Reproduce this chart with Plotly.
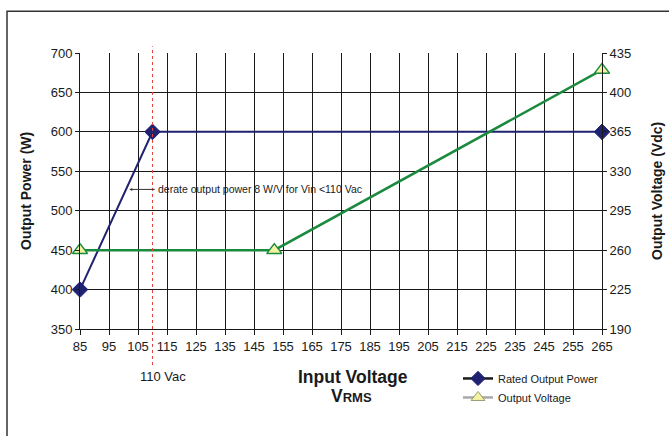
import plotly.graph_objects as go

# ---- data ----
power_x = [85, 110, 265]
power_y = [400, 600, 600]          # Rated Output Power (W), left axis
volt_x = [85, 152, 265]
volt_y = [260, 260, 420]           # Output Voltage (Vdc), right axis
x_ticks = list(range(85, 266, 10))
left_ticks = [350, 400, 450, 500, 550, 600, 650, 700]
right_ticks = [190, 225, 260, 295, 330, 365, 400, 435]
derate_x = 110
ann_point = (102, 527)

FONT = "Liberation Sans, Arial, Helvetica, sans-serif"
NAVY = "#1f2270"
GREEN = "#1b8a3e"
YELLOW = "#f3f3a2"
INK = "#1a1a1a"

fig = go.Figure()

fig.add_trace(go.Scatter(
    x=power_x, y=power_y, mode="lines+markers", showlegend=False, cliponaxis=False,
    line=dict(color=NAVY, width=2),
    marker=dict(symbol="diamond", size=12, color=NAVY, line=dict(color=NAVY, width=1)),
    yaxis="y"))
fig.add_trace(go.Scatter(
    x=volt_x, y=volt_y, mode="lines+markers", showlegend=False, cliponaxis=False,
    line=dict(color=GREEN, width=2.5),
    marker=dict(symbol="triangle-up", size=13, color=YELLOW, line=dict(color=GREEN, width=1.5)),
    yaxis="y2"))

# legend entries (styled like the original legend)
fig.add_trace(go.Scatter(
    x=[None], y=[None], mode="lines+markers", name="Rated Output Power",
    line=dict(color=INK, width=2.5),
    marker=dict(symbol="diamond", size=11, color=NAVY, line=dict(color=NAVY, width=1))))
fig.add_trace(go.Scatter(
    x=[None], y=[None], mode="lines+markers", name="Output Voltage",
    line=dict(color="#a8a8a8", width=2.5),
    marker=dict(symbol="triangle-up", size=12, color=YELLOW, line=dict(color="#9a9a70", width=1))))

fig.update_layout(
    width=669, height=436,
    margin=dict(l=80, r=67, t=53, b=107),
    paper_bgcolor="white", plot_bgcolor="white",
    font=dict(family=FONT, color=INK, size=13),
    hovermode=False,
    xaxis=dict(
        range=[85, 265], tickvals=x_ticks, ticktext=[str(v) for v in x_ticks],
        showgrid=True, gridcolor=INK, gridwidth=1,
        showline=True, linecolor=INK, linewidth=1,
        ticks="outside", ticklen=5, tickcolor=INK,
        tickfont=dict(size=13), zeroline=False),
    yaxis=dict(
        range=[350, 700], tickvals=left_ticks,
        showgrid=True, gridcolor=INK, gridwidth=1,
        showline=True, linecolor=INK, linewidth=1,
        ticks="outside", ticklen=4, tickcolor=INK,
        tickfont=dict(size=13), zeroline=False),
    yaxis2=dict(
        range=[190, 435], tickvals=right_ticks, overlaying="y", side="right",
        showgrid=False, showline=True, linecolor=INK, linewidth=1,
        ticks="outside", ticklen=4, tickcolor=INK,
        tickfont=dict(size=13), zeroline=False),
    legend=dict(
        x=(458 - 80) / 522, y=(329 - 364) / 276.3, xanchor="left", yanchor="top",
        font=dict(size=11, family=FONT), bgcolor="rgba(0,0,0,0)",
        tracegroupgap=0, itemwidth=30),
)

# outer frame
fig.add_shape(type="rect", xref="paper", yref="paper",
              x0=(7 - 80) / 522, x1=(690 - 80) / 522,
              y0=(329 - 460) / 276.3, y1=(329 - 11) / 276.3,
              line=dict(color="#333333", width=1.5), layer="below")

# 110 Vac marker line
fig.add_shape(type="line", xref="x", yref="paper",
              x0=derate_x, x1=derate_x,
              y0=(329 - 365) / 276.3, y1=(329 - 46) / 276.3,
              line=dict(color="#e8403a", width=1, dash="3px,3px"))

annotations = [
    dict(text="<b>Output Power (W)</b>", xref="paper", yref="paper",
         x=(26 - 80) / 522, y=0.5, textangle=-90, showarrow=False,
         font=dict(size=14, family=FONT, color=INK), xanchor="center", yanchor="middle"),
    dict(text="<b>Output Voltage (Vdc)</b>", xref="paper", yref="paper",
         x=(657 - 80) / 522, y=0.5, textangle=-90, showarrow=False,
         font=dict(size=14, family=FONT, color=INK), xanchor="center", yanchor="middle"),
    dict(text="110 Vac", xref="x", yref="paper", x=derate_x, xshift=10,
         y=(329 - 377) / 276.3, showarrow=False, yanchor="middle",
         font=dict(size=13, family=FONT, color=INK)),
    dict(text="<b>Input Voltage</b>", xref="paper", yref="paper",
         x=(353 - 80) / 522, y=(329 - 377) / 276.3, showarrow=False, yanchor="middle",
         font=dict(size=17.5, family=FONT, color=INK)),
    dict(text="<b>V<span style='font-size:13px'>RMS</span></b>", xref="paper", yref="paper",
         x=(351 - 80) / 522, y=(329 - 396) / 276.3, showarrow=False, yanchor="middle",
         font=dict(size=17.5, family=FONT, color=INK)),
    dict(text="derate output power 8 W/V for Vin <110 Vac", xref="x", yref="y",
         x=ann_point[0], y=ann_point[1], ax=131, ay=0, axref="pixel", ayref="pixel",
         showarrow=True, arrowhead=2, arrowsize=0.6, arrowwidth=1, arrowcolor="#333333",
         standoff=0, startstandoff=2,
         font=dict(size=10.5, family=FONT, color=INK)),
]
fig.update_layout(annotations=annotations)

fig.write_html("out.html", config={"displayModeBar": False, "staticPlot": True},
               post_script="document.body.style.margin='0';")
